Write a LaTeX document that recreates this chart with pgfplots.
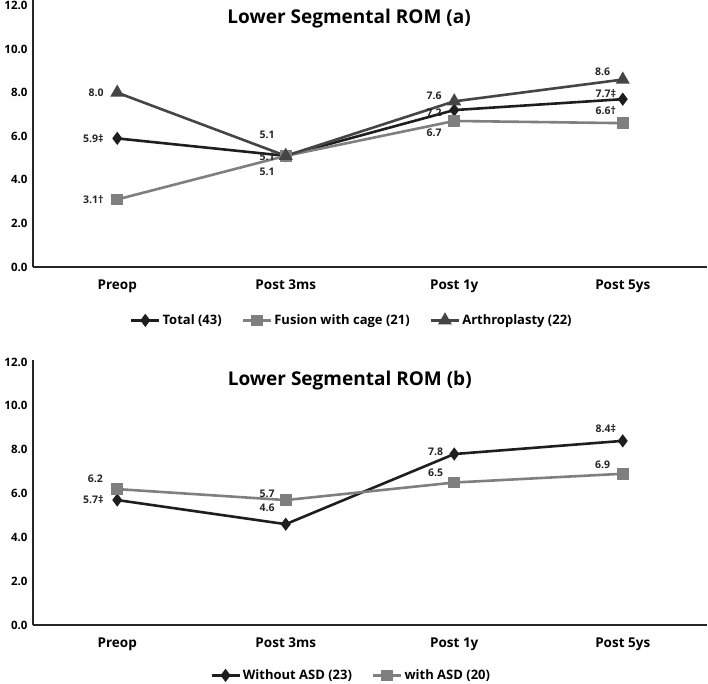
\documentclass[border=0pt]{standalone}
\usepackage{pgfplots}
\pgfplotsset{compat=1.18}
\usepackage{pgfplotstable}
\usepackage{fontspec}
\setmainfont{Open Sans}

\definecolor{cTotal}{HTML}{1E1E1E}
\definecolor{cFusion}{HTML}{7F7F7F}
\definecolor{cArthro}{HTML}{454545}

\pgfplotstableread{
x total fusion arthro
0 5.9 3.1 8.0
1 5.1 5.1 5.1
2 7.2 6.7 7.6
3 7.7 6.6 8.6
}\tablea

\pgfplotstableread{
x without with
0 5.7 6.2
1 4.6 5.7
2 7.8 6.5
3 8.4 6.9
}\tableb

\tikzset{lab/.style={font=\fontsize{10.5}{12}\selectfont\bfseries, text=black!85, inner sep=0pt}}

\pgfplotsset{
  rom/.style={
    scale only axis,
    anchor=south west,
    width=674pt,
    xmin=-0.5, xmax=3.5,
    ymin=0,
    axis lines*=left,
    axis line style={line width=1.4pt, black!85},
    major tick length=0pt,
    xtick={0,1,2,3},
    xticklabels={Preop,Post 3ms,Post 1y,Post 5ys},
    ytick={0,2,...,12},
    yticklabel style={/pgf/number format/assume math mode=true,
      /pgf/number format/fixed, /pgf/number format/fixed zerofill,
      /pgf/number format/precision=1,
      font=\fontsize{11.5}{14}\selectfont\bfseries, xshift=-2pt},
    xticklabel style={font=\fontsize{13.5}{16}\selectfont\bfseries, yshift=-9pt},
    legend columns=3,
    legend style={draw=none, fill=none, font=\fontsize{13}{16}\selectfont\bfseries,
      /tikz/every even column/.append style={column sep=18pt}},
    legend image code/.code={
      \draw[mark repeat=2,mark phase=2] plot coordinates {(0pt,0pt) (14pt,0pt) (28pt,0pt)};},
    every axis plot/.append style={line width=2.6pt},
  },
}

\begin{document}
\begin{tikzpicture}
\path[use as bounding box] (0,0) rectangle (708pt,683pt);

% (a)
\begin{axis}[rom, at={(33pt,416pt)}, height=267pt, ymax=12.25,
    legend style={at={(0.473,-0.2)}, anchor=center}]
\addplot[cTotal, mark=diamond*, mark size=4.5pt] table[x=x, y=total] {\tablea};
\addlegendentry{Total (43)}
\addplot[cFusion, mark=square*, mark size=4.5pt] table[x=x, y=fusion] {\tablea};
\addlegendentry{Fusion with cage (21)}
\addplot[cArthro, mark=triangle*, mark size=5.5pt] table[x=x, y=arthro] {\tablea};
\addlegendentry{Arthroplasty (22)}

\node[font=\fontsize{19}{22}\selectfont\bfseries] at (axis description cs:0.469,0.93) {Lower Segmental ROM (a)};

\node[lab, anchor=east] at (axis cs:-0.08,8.0) {8.0};
\node[lab, anchor=east] at (axis cs:-0.08,5.9) {5.9‡};
\node[lab, anchor=east] at (axis cs:-0.08,3.1) {3.1†};
\node[lab] at (axis cs:0.89,6.05) {5.1};
\node[lab] at (axis cs:0.89,5.05) {5.1};
\node[lab] at (axis cs:0.89,4.36) {5.1};
\node[lab] at (axis cs:1.88,7.84) {7.6};
\node[lab] at (axis cs:1.88,7.06) {7.2};
\node[lab] at (axis cs:1.88,6.15) {6.7};
\node[lab] at (axis cs:2.88,8.94) {8.6};
\node[lab] at (axis cs:2.9,7.94) {7.7‡};
\node[lab] at (axis cs:2.9,7.16) {6.6†};
\end{axis}

% (b)
\begin{axis}[rom, at={(33pt,58pt)}, height=265pt, ymax=12.09,
    legend style={at={(0.472,-0.19)}, anchor=center}]
\addplot[cTotal, mark=diamond*, mark size=4.5pt] table[x=x, y=without] {\tableb};
\addlegendentry{Without ASD (23)}
\addplot[cFusion, mark=square*, mark size=4.5pt] table[x=x, y=with] {\tableb};
\addlegendentry{with ASD (20)}

\node[font=\fontsize{19}{22}\selectfont\bfseries] at (axis description cs:0.47,0.924) {Lower Segmental ROM (b)};

\node[lab] at (axis cs:-0.13,6.67) {6.2};
\node[lab, anchor=east] at (axis cs:-0.08,5.7) {5.7‡};
\node[lab] at (axis cs:0.89,5.98) {5.7};
\node[lab] at (axis cs:0.89,5.34) {4.6};
\node[lab] at (axis cs:1.89,7.9) {7.8};
\node[lab] at (axis cs:1.89,6.94) {6.5};
\node[lab] at (axis cs:2.9,8.95) {8.4‡};
\node[lab] at (axis cs:2.88,7.3) {6.9};
\end{axis}
\end{tikzpicture}
\end{document}
